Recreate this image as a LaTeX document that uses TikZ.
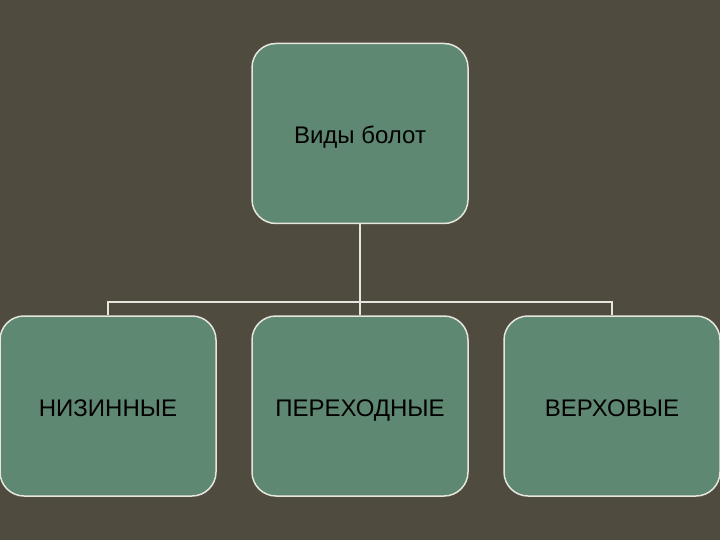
\documentclass[tikz,border=0pt]{standalone}
\usepackage{fontspec}
\setmainfont{Liberation Sans}
\definecolor{bg}{HTML}{4F4B3E}
\definecolor{boxfill}{HTML}{5F8872}
\definecolor{edge}{HTML}{E6E6DE}
\begin{document}
\begin{tikzpicture}[x=1pt,y=-1pt,
  box/.style={draw=edge,line width=1.5pt,fill=boxfill,rounded corners=24pt,minimum width=216pt,minimum height=180pt,inner sep=0pt,text height=20pt,text depth=0pt,font=\fontsize{24}{26}\selectfont,text=black},
  conn/.style={draw=edge,line width=1.5pt}]
\fill[bg] (0,0) rectangle (720,540);
\useasboundingbox (0,0) rectangle (720,540);
\clip (0,0) rectangle (720,540);
\node[box] (top) at (360,133.5) {Виды болот};
\node[box] (a) at (108,406) {НИЗИННЫЕ};
\node[box] (b) at (360,406) {ПЕРЕХОДНЫЕ};
\node[box] (c) at (612,406) {ВЕРХОВЫЕ};
\coordinate (m) at (360,302);
\draw[conn] (top.south) -- (m);
\draw[conn] (a.north) -- (a.north |- m) -- (c.north |- m) -- (c.north);
\draw[conn] (m) -- (b.north);
\end{tikzpicture}
\end{document}
